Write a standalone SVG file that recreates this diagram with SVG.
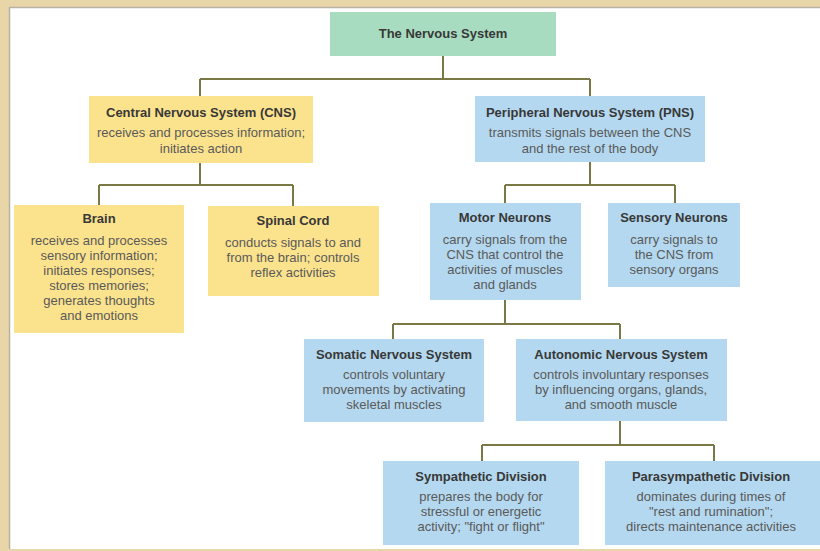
<svg xmlns="http://www.w3.org/2000/svg" width="820" height="551" viewBox="0 0 820 551">
<style>
.t{font-family:"Liberation Sans",Arial,sans-serif;font-size:13px;font-weight:bold;fill:#383838;text-anchor:middle}
.b{font-family:"Liberation Sans",Arial,sans-serif;font-size:13px;fill:#5a5a5a;text-anchor:middle}
.y{fill:#fbe28d}
.bl{fill:#b4d8ef}
.g{fill:#a8dcc0}
.c{fill:none;stroke:#7a7845;stroke-width:2}
</style>
<rect x="0" y="0" width="820" height="551" fill="#e8d5a8"/>
<rect x="9" y="7" width="811" height="542" fill="#ffffff"/>
<path d="M9.5 7 V549 M9 7.5 H820" stroke="#b8b2a4" stroke-width="1.5" fill="none"/>
<g id="connectors">
<path class="c" d="M443 56 V79 M200 79 H590 M200 79 V96 M590 79 V96"/>
<path class="c" d="M200 163 V185 M99 185 H293 M99 185 V205 M293 185 V206"/>
<path class="c" d="M590 162 V185 M505 185 H675 M505 185 V203 M675 185 V203"/>
<path class="c" d="M505 300 V324 M393 324 H620 M393 324 V339 M620 324 V339"/>
<path class="c" d="M620 421 V445 M482 445 H714 M482 445 V461 M714 445 V461"/>
</g>
<g id="nervous-system">
<rect class="g" x="330" y="12" width="226" height="44"/>
<text class="t" x="443" y="38">The Nervous System</text>
</g>
<g id="cns">
<rect class="y" x="89" y="96" width="224" height="67"/>
<text class="t" x="201" y="117">Central Nervous System (CNS)</text>
<text class="b" x="201" y="137">receives and processes information;</text>
<text class="b" x="201" y="153">initiates action</text>
</g>
<g id="pns">
<rect class="bl" x="475" y="96" width="230" height="66"/>
<text class="t" x="590" y="117">Peripheral Nervous System (PNS)</text>
<text class="b" x="590" y="137">transmits signals between the CNS</text>
<text class="b" x="590" y="153">and the rest of the body</text>
</g>
<g id="brain">
<rect class="y" x="14" y="205" width="170" height="128"/>
<text class="t" x="99" y="223">Brain</text>
<text class="b" x="99" y="245">receives and processes</text>
<text class="b" x="99" y="260">sensory information;</text>
<text class="b" x="99" y="275">initiates responses;</text>
<text class="b" x="99" y="290">stores memories;</text>
<text class="b" x="99" y="305">generates thoughts</text>
<text class="b" x="99" y="320">and emotions</text>
</g>
<g id="spinal-cord">
<rect class="y" x="208" y="206" width="171" height="90"/>
<text class="t" x="293" y="225">Spinal Cord</text>
<text class="b" x="293" y="247">conducts signals to and</text>
<text class="b" x="293" y="262">from the brain; controls</text>
<text class="b" x="293" y="277">reflex activities</text>
</g>
<g id="motor-neurons">
<rect class="bl" x="430" y="203" width="151" height="97"/>
<text class="t" x="505" y="222">Motor Neurons</text>
<text class="b" x="505" y="244">carry signals from the</text>
<text class="b" x="505" y="259">CNS that control the</text>
<text class="b" x="505" y="274">activities of muscles</text>
<text class="b" x="505" y="289">and glands</text>
</g>
<g id="sensory-neurons">
<rect class="bl" x="608" y="203" width="132" height="84"/>
<text class="t" x="674" y="222">Sensory Neurons</text>
<text class="b" x="674" y="244">carry signals to</text>
<text class="b" x="674" y="259">the CNS from</text>
<text class="b" x="674" y="274">sensory organs</text>
</g>
<g id="somatic">
<rect class="bl" x="304" y="339" width="180" height="83"/>
<text class="t" x="394" y="359">Somatic Nervous System</text>
<text class="b" x="394" y="379">controls voluntary</text>
<text class="b" x="394" y="394">movements by activating</text>
<text class="b" x="394" y="409">skeletal muscles</text>
</g>
<g id="autonomic">
<rect class="bl" x="516" y="339" width="211" height="82"/>
<text class="t" x="621" y="359">Autonomic Nervous System</text>
<text class="b" x="621" y="379">controls involuntary responses</text>
<text class="b" x="621" y="394">by influencing organs, glands,</text>
<text class="b" x="621" y="409">and smooth muscle</text>
</g>
<g id="sympathetic">
<rect class="bl" x="383" y="461" width="196" height="84"/>
<text class="t" x="481" y="481">Sympathetic Division</text>
<text class="b" x="481" y="501">prepares the body for</text>
<text class="b" x="481" y="516">stressful or energetic</text>
<text class="b" x="481" y="531">activity; "fight or flight"</text>
</g>
<g id="parasympathetic">
<rect class="bl" x="605" y="461" width="215" height="84"/>
<text class="t" x="711" y="481">Parasympathetic Division</text>
<text class="b" x="711" y="501">dominates during times of</text>
<text class="b" x="711" y="516">"rest and rumination";</text>
<text class="b" x="711" y="531">directs maintenance activities</text>
</g>
</svg>
